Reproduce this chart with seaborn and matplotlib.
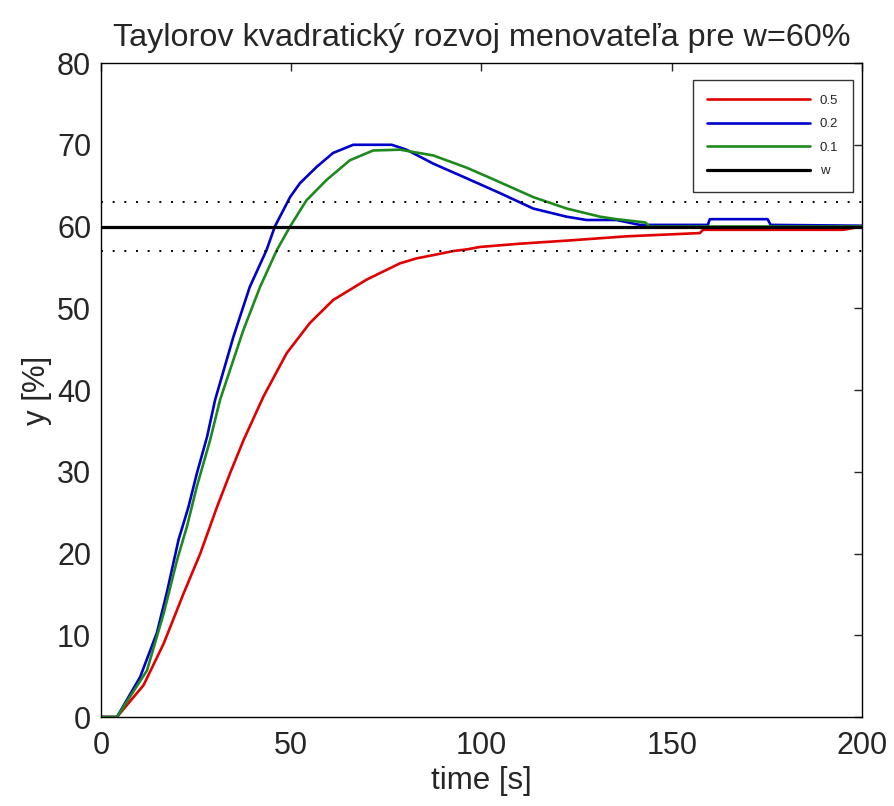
"""Step responses for different Taylor denominator settings, w = 60 %."""

import matplotlib
matplotlib.use('Agg')
import matplotlib.pyplot as plt
import pandas as pd
import seaborn as sns

# setpoint and +-5 % band
w_value = 60
band_upper = 63
band_lower = 57

# red curve, parameter 0.5
t_05 = [0, 4.2, 11.2, 16.5, 21.7, 26.1, 30.5, 34.0, 37.5, 42.7, 48.8, 54.9, 61.0,
        69.8, 78.6, 82.9, 87.3, 92.6, 96.1, 99.6, 110.1, 123.2, 138.1, 157.4, 158.2,
        195.0, 200]
y_05 = [0, 0, 3.9, 9.0, 15.1, 20.0, 25.7, 29.9, 33.9, 39.2, 44.5, 48.2, 51.0,
        53.5, 55.5, 56.1, 56.5, 57.0, 57.2, 57.5, 57.9, 58.3, 58.8, 59.2, 59.6,
        59.6, 60.0]

# blue curve, parameter 0.2
t_02 = [0, 4.2, 10.3, 14.7, 17.3, 20.4, 23.0, 25.2, 27.9, 30.0, 34.8, 39.1, 43.5,
        45.7, 49.7, 52.3, 56.7, 61.0, 66.3, 76.4, 80.3, 87.3, 96.1, 104.8, 113.6,
        122.4, 127.6, 135.5, 141.6, 159.5, 160.0, 175.2, 176.0, 200]
y_02 = [0, 0, 4.9, 10.3, 15.2, 21.7, 25.7, 29.8, 34.3, 38.8, 46.5, 52.6, 57.1,
        60.0, 63.6, 65.3, 67.3, 69.0, 70.0, 70.0, 69.4, 67.7, 65.9, 64.1, 62.2,
        61.2, 60.8, 60.8, 60.2, 60.2, 60.9, 60.9, 60.2, 60.1]

# green curve, parameter 0.1
t_01 = [0, 4.2, 12.1, 16.5, 20.0, 22.6, 25.2, 28.7, 31.3, 37.4, 41.8, 46.2, 49.7,
        54.0, 59.3, 65.4, 71.5, 78.6, 87.3, 96.1, 103.0, 113.6, 122.4, 131.2,
        135.5, 143.0, 144.2, 200]
y_01 = [0, 0, 5.7, 12.7, 19.2, 23.3, 28.2, 33.9, 38.8, 47.3, 52.6, 57.1, 60.0,
        63.2, 65.7, 68.1, 69.3, 69.4, 68.7, 67.2, 65.8, 63.6, 62.2, 61.2,
        60.9, 60.5, 60.0, 60.0]

series = [('0.5', t_05, y_05, '#e00000'),
          ('0.2', t_02, y_02, '#0000cc'),
          ('0.1', t_01, y_01, '#1e8a1e')]

sns.set_style('white')
plt.rcParams['font.family'] = ['Liberation Sans', 'DejaVu Sans']

fig = plt.figure(figsize=(8.95, 8.06), dpi=100)
ax = fig.add_axes([0.1128, 0.1104, 0.8503, 0.8114])

for label, t, y, color in series:
    df = pd.DataFrame({'time': t, 'y': y})
    sns.lineplot(data=df, x='time', y='y', ax=ax, color=color, lw=1.9,
                 label=label, sort=False, estimator=None)

# reference line and tolerance band
ax.axhline(w_value, color='black', lw=2.3, label='w')
ax.axhline(band_upper, color='black', lw=1.4, linestyle=(0, (1, 5)))
ax.axhline(band_lower, color='black', lw=1.4, linestyle=(0, (1, 5)))

ax.set_xlim(0, 200)
ax.set_ylim(0, 80)
ax.set_xticks([0, 50, 100, 150, 200])
ax.set_yticks(range(0, 81, 10))
ax.tick_params(direction='in', length=6, width=1, top=True, right=True,
               labelsize=22, pad=7)
ax.tick_params(axis='x', pad=10)
for sp in ax.spines.values():
    sp.set_color('black')
    sp.set_linewidth(1)

ax.set_title('Taylorov kvadratický rozvoj menovateľa pre w=60%', fontsize=23.3, pad=12)
ax.set_xlabel('time [s]', fontsize=22.5, labelpad=4)
ax.set_ylabel('y [%]', fontsize=22.5, labelpad=4)

leg = ax.legend(loc='upper right', bbox_to_anchor=(0.988, 0.974), borderaxespad=0,
                fontsize=9.5, handlelength=7.8, handletextpad=0.75, frameon=True,
                fancybox=False, edgecolor='black', borderpad=1.1, labelspacing=0.85)
leg.get_frame().set_linewidth(1)

plt.savefig('out.png', dpi=100)
print("Saved: out.png")
